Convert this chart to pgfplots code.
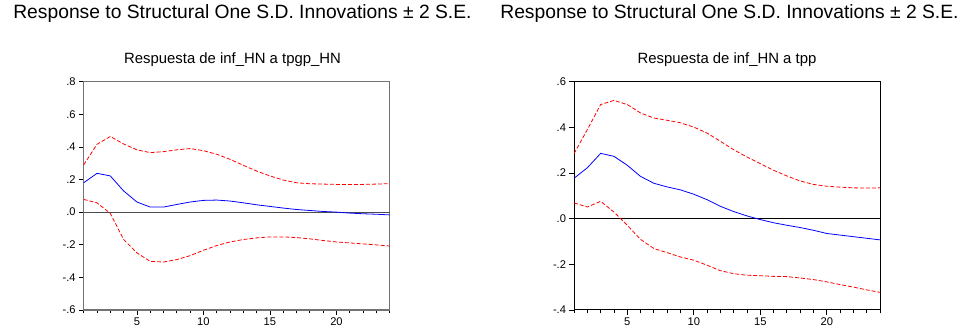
\documentclass[border=0pt]{standalone}
\usepackage{pgfplots}
\pgfplotsset{compat=1.18}
\usepackage{fontspec}
\setmainfont{Liberation Sans}
\begin{document}
\begin{tikzpicture}
\path (0pt,0pt) rectangle (722.25pt,246.75pt);
\pgfplotsset{
  irf/.style={
    scale only axis, width=230.25pt, height=171.75pt,
    xmin=1, xmax=24,
    xtick={5,10,15,20}, xticklabels={5,10,15,20},
    minor xtick={1,2,...,24},
    tick pos=left, tick align=outside,
    major tick length=3.5pt, minor tick length=2.5pt,
    tick style={black, line width=0.6pt},
    ticklabel style={font=\fontsize{8.4}{9}\selectfont},
    axis line style={line width=0.7pt},
    xticklabel style={yshift=1pt},
    yticklabel style={xshift=1pt},
  },
  mid/.style={blue, line width=0.6pt, no marks},
  band/.style={red, line width=0.6pt, no marks, dash pattern=on 3pt off 1.5pt},
}
\node[anchor=west, font=\fontsize{14.5}{16}\selectfont] at (6.5pt,236.5pt) {Response to Structural One S.D. Innovations ± 2 S.E.};
\node[anchor=west, font=\fontsize{14.5}{16}\selectfont] at (373pt,236.5pt) {Response to Structural One S.D. Innovations ± 2 S.E.};
\node[font=\fontsize{11.2}{12}\selectfont] at (175pt,201.75pt) {Respuesta de inf\_HN a tpgp\_HN};
\node[font=\fontsize{11.2}{12}\selectfont] at (547.1pt,201.75pt) {Respuesta de inf\_HN a tpp};
\begin{axis}[irf, at={(63pt,13.5pt)}, anchor=south west,
  axis line style={line width=0.9pt, black!55},
  ymin=-0.6, ymax=0.8,
  ytick={-0.6,-0.4,-0.2,0,0.2,0.4,0.6,0.8},
  yticklabels={-.6,-.4,-.2,.0,.2,.4,.6,.8}]
\addplot[black!70, line width=0.6pt] coordinates {(1,0) (24,0)};
\addplot[band] coordinates {(1,0.29) (2,0.416) (3,0.464) (4,0.418) (5,0.382) (6,0.365) (7,0.371) (8,0.382) (9,0.39) (10,0.377) (11,0.355) (12,0.324) (13,0.287) (14,0.252) (15,0.222) (16,0.197) (17,0.18) (18,0.174) (19,0.172) (20,0.17) (21,0.17) (22,0.17) (23,0.172) (24,0.175)};
\addplot[band] coordinates {(1,0.078) (2,0.057) (3,-0.008) (4,-0.168) (5,-0.25) (6,-0.302) (7,-0.306) (8,-0.291) (9,-0.267) (10,-0.234) (11,-0.205) (12,-0.183) (13,-0.168) (14,-0.158) (15,-0.152) (16,-0.152) (17,-0.156) (18,-0.164) (19,-0.174) (20,-0.183) (21,-0.189) (22,-0.195) (23,-0.201) (24,-0.208)};
\addplot[mid] coordinates {(1,0.18) (2,0.238) (3,0.222) (4,0.13) (5,0.062) (6,0.031) (7,0.031) (8,0.047) (9,0.062) (10,0.072) (11,0.074) (12,0.068) (13,0.057) (14,0.045) (15,0.035) (16,0.025) (17,0.016) (18,0.01) (19,0.004) (20,0) (21,-0.006) (22,-0.01) (23,-0.013) (24,-0.017)};
\end{axis}
\begin{axis}[irf, at={(432pt,13.5pt)}, anchor=south west,
  ymin=-0.4, ymax=0.6,
  ytick={-0.4,-0.2,0,0.2,0.4,0.6},
  yticklabels={-.4,-.2,.0,.2,.4,.6}]
\addplot[black, line width=0.5pt] coordinates {(1,0) (24,0)};
\addplot[band] coordinates {(1,0.285) (2,0.39) (3,0.5) (4,0.518) (5,0.5) (6,0.463) (7,0.441) (8,0.431) (9,0.42) (10,0.401) (11,0.375) (12,0.339) (13,0.302) (14,0.27) (15,0.241) (16,0.212) (17,0.187) (18,0.165) (19,0.15) (20,0.142) (21,0.138) (22,0.135) (23,0.134) (24,0.135)};
\addplot[band] coordinates {(1,0.069) (2,0.051) (3,0.076) (4,0.029) (5,-0.029) (6,-0.091) (7,-0.131) (8,-0.149) (9,-0.168) (10,-0.182) (11,-0.204) (12,-0.228) (13,-0.241) (14,-0.248) (15,-0.25) (16,-0.253) (17,-0.254) (18,-0.26) (19,-0.267) (20,-0.277) (21,-0.289) (22,-0.3) (23,-0.312) (24,-0.323)};
\addplot[mid] coordinates {(1,0.177) (2,0.223) (3,0.286) (4,0.273) (5,0.234) (6,0.185) (7,0.155) (8,0.139) (9,0.126) (10,0.107) (11,0.083) (12,0.054) (13,0.031) (14,0.012) (15,-0.004) (16,-0.018) (17,-0.029) (18,-0.039) (19,-0.051) (20,-0.065) (21,-0.072) (22,-0.079) (23,-0.086) (24,-0.093)};
\end{axis}
\end{tikzpicture}
\end{document}
